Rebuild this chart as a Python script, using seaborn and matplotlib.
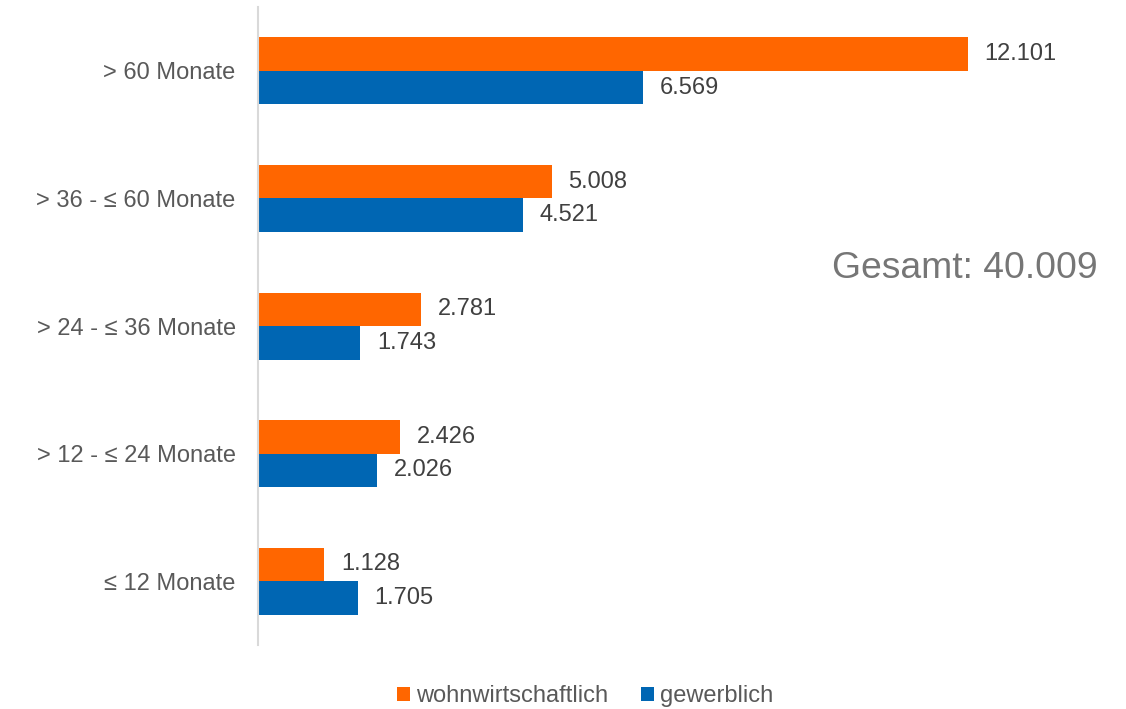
import matplotlib
matplotlib.use("Agg")
import matplotlib.pyplot as plt
from matplotlib.patches import Patch
import seaborn as sns
import pandas as pd

# Restlaufzeiten und Volumen je Segment
categories = ["> 60 Monate", "> 36 - ≤ 60 Monate", "> 24 - ≤ 36 Monate",
              "> 12 - ≤ 24 Monate", "≤ 12 Monate"]
wohnwirtschaftlich = [12101, 5008, 2781, 2426, 1128]
gewerblich = [6569, 4521, 1743, 2026, 1705]
series_names = ["wohnwirtschaftlich", "gewerblich"]
series_colors = ["#FF6600", "#0066B3"]
total_label = "Gesamt: 40.009"

df = pd.DataFrame({
    "Laufzeit": categories * 2,
    "Segment": [series_names[0]] * len(categories) + [series_names[1]] * len(categories),
    "Wert": wohnwirtschaftlich + gewerblich,
})

sns.set_theme(style="white")
plt.rcParams["font.family"] = ["Liberation Sans", "DejaVu Sans"]

fig = plt.figure(figsize=(11.26, 7.09), dpi=100)
ax = fig.add_axes([0.2291, 0.0903, 0.7509, 0.8997])

sns.barplot(data=df, y="Laufzeit", x="Wert", hue="Segment", order=categories,
            hue_order=series_names, palette=series_colors, orient="h",
            width=0.525, saturation=1, linewidth=0, ax=ax, legend=False)

for container in ax.containers:
    labels = [f"{v:,.0f}".replace(",", ".") for v in container.datavalues]
    ax.bar_label(container, labels=labels, padding=12, fontsize=17, color="#404040")

ax.set_xlim(0, 14410)
ax.set_ylim(4.5, -0.5)
ax.set_xlabel("")
ax.set_ylabel("")
ax.set_xticks([])
ax.tick_params(axis="y", length=0, pad=16, labelsize=17, labelcolor="#595959")
for side in ["top", "right", "bottom"]:
    ax.spines[side].set_visible(False)
ax.spines["left"].set_color("#D9D9D9")
ax.spines["left"].set_linewidth(1.5)

fig.text(1098 / 1126, 1 - 268 / 709, total_label, ha="right", va="center",
         fontsize=26.8, color="#767676")

handles = [Patch(facecolor=c, edgecolor="none", label=n)
           for n, c in zip(series_names, series_colors)]
fig.legend(handles=handles, loc="center", bbox_to_anchor=(585 / 1126, 1 - 696 / 709),
           ncol=2, frameon=False, fontsize=17, labelcolor="#595959",
           handlelength=0.55, handleheight=0.55, handletextpad=0.25,
           columnspacing=1.4, borderaxespad=0)

fig.savefig("out.png", dpi=100)
